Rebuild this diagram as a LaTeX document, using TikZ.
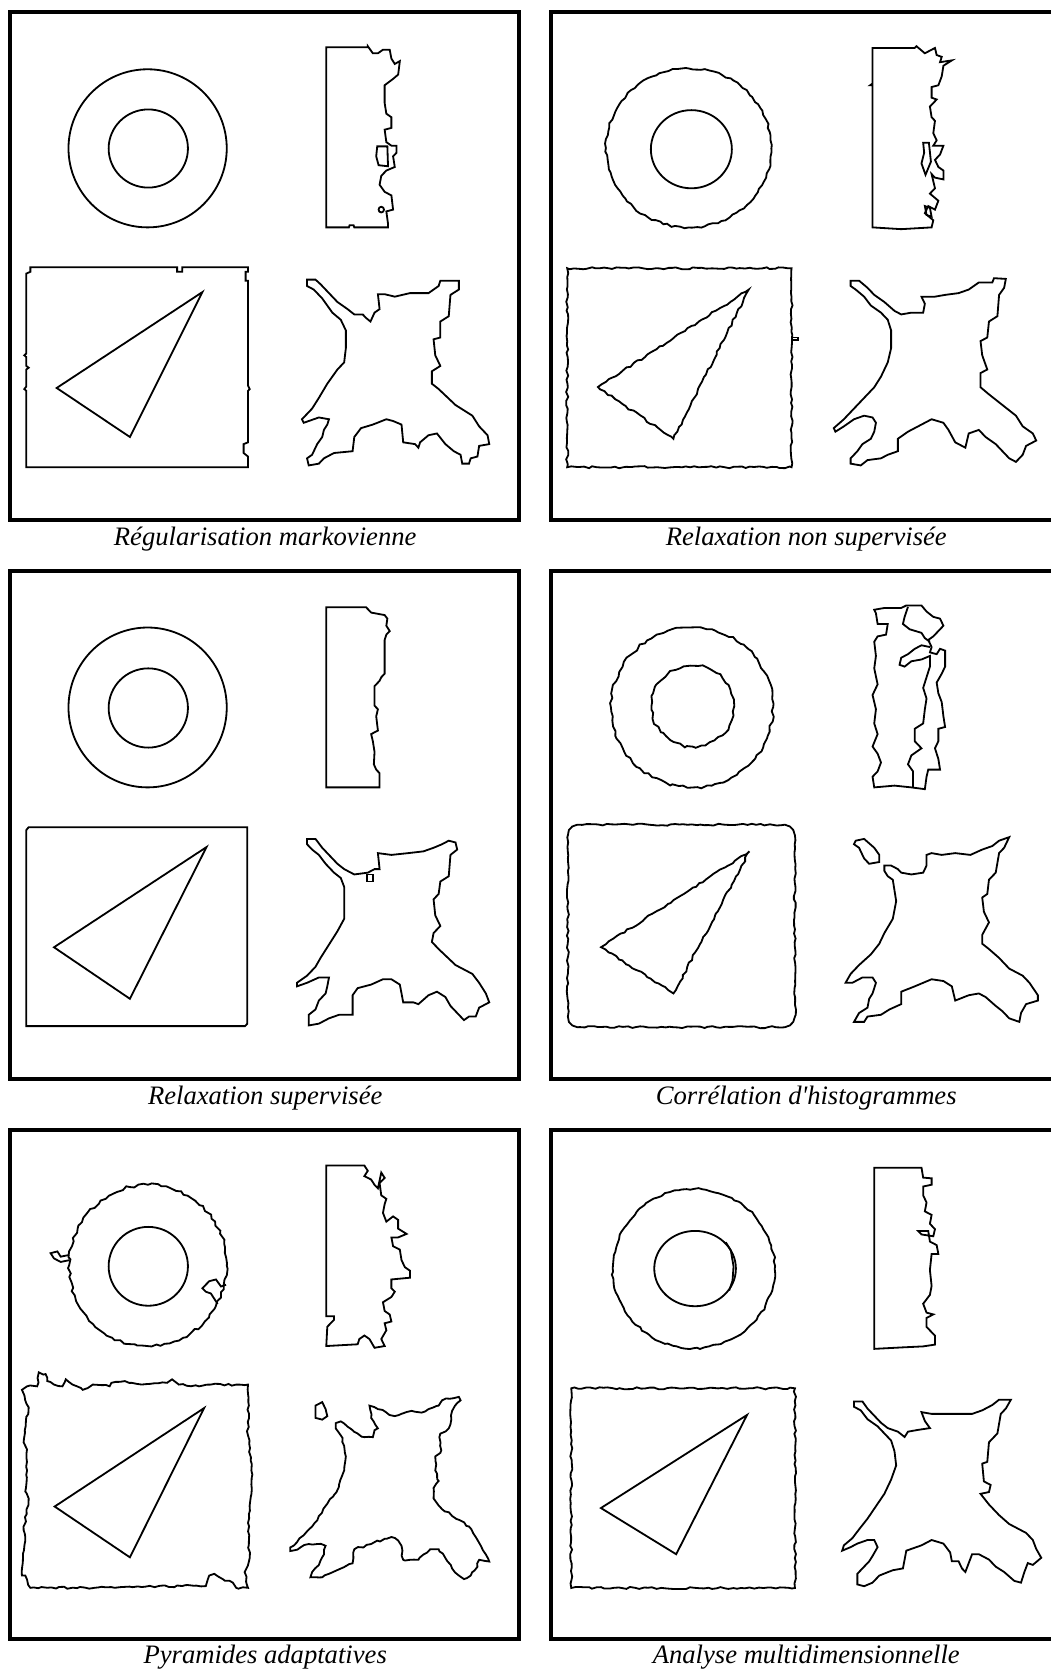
\documentclass[tikz,border=0pt]{standalone}
\usepackage{fontspec}
\setmainfont{Liberation Serif}
\usetikzlibrary{decorations.pathmorphing}
\begin{document}
\begin{tikzpicture}[x=0.5pt,y=-0.5pt,
  frm/.style={line width=1.9pt},
  shp/.style={line width=0.85pt, line join=miter},
  noisy/.style={decorate, decoration={random steps, segment length=2pt, amplitude=0.5pt}},
  rough/.style={decorate, decoration={random steps, segment length=2.2pt, amplitude=0.7pt}},
  captxt/.style={font=\itshape\fontsize{12.5}{14}\selectfont, anchor=base, inner sep=0pt}]
\pgfmathsetseed{7}
\useasboundingbox (0,0) rectangle (986,1568);
\fill[white] (0,0) rectangle (986,1568);

% frames
\draw[frm] (9.5,11) rectangle (487.5,488.5);
\draw[frm] (517,11) rectangle (997,488.5);
\draw[frm] (9.5,536) rectangle (487.5,1013.5);
\draw[frm] (517,536) rectangle (997,1013.5);
\draw[frm] (9.5,1061) rectangle (487.5,1538.5);
\draw[frm] (517,1061) rectangle (997,1538.5);

% captions
\node[captxt] (c1) at (249,512) {Régularisation markovienne};
\node[captxt] (c2) at (757,512) {Relaxation non supervisée};
\node[captxt] (c3) at (249,1037) {Relaxation supervisée};
\node[captxt] (c4) at (757,1037) {Corrélation d\textquotesingle histogrammes};
\node[captxt] (c5) at (249,1562) {Pyramides adaptatives};
\node[captxt] (c6) at (757,1562) {Analyse multidimensionnelle};

% ---------- Panel 1 ----------
\begin{scope}[shift={(0,0)},x=0.1584pt,y=-0.1668pt]
\draw[shp] (437.5,417.5) ellipse [x radius=234.5,y radius=222.5];
\draw[shp] (439.5,418) ellipse [x radius=117.5,y radius=110];
\draw[shp] (967,133)--(1090,133)--(1090,130)--(1105,150)--(1120,150)--(1135,140)--(1155,140)--(1160,165)--(1170,180)--(1185,172)--(1180,210)--(1165,222)--(1140,240)--(1140,290)--(1145,320)--(1160,330)--(1160,360)--(1140,365)--(1145,400)--(1160,410)--(1175,410)--(1175,430)--(1165,440)--(1170,470)--(1145,480)--(1130,495)--(1125,520)--(1140,540)--(1160,550)--(1165,590)--(1145,595)--(1150,630)--(1150,640)--(1050,640)--(1048,634)--(1036,634)--(1034,640)--(967,640)--cycle;
\draw[shp] (1118,412)--(1148,412)--(1150,468)--(1122,465)--(1115,440)--cycle;
\draw[shp] (1130,590) ellipse [x radius=8,y radius=8];
\draw[shp] (78,770)--(90,765)--(90,752)--(525,752)--(525,765)--(540,765)--(540,752)--(735,752)--(735,765)--(728,765)--(728,790)--(735,790)--(735,1085)--(740,1095)--(735,1100)--(735,1245)--(722,1250)--(722,1275)--(735,1285)--(735,1315)--(78,1315)--(78,1100)--(72,1095)--(78,1088)--(78,1040)--(85,1035)--(78,1030)--(78,1005)--(72,1000)--(78,995)--cycle;
\draw[shp] (600,822)--(168,1092)--(385,1230)--cycle;
\draw[shp] (910,787)--(935,787)--(950,800)--(970,820)--(1000,850)--(1030,870)--(1050,885)--(1075,885)--(1085,895)--(1098,905)--(1110,880)--(1125,870)--(1120,828)--(1140,828)--(1170,835)--(1215,825)--(1270,825)--(1300,805)--(1305,790)--(1360,790)--(1360,815)--(1335,830)--(1330,890)--(1305,905)--(1305,950)--(1285,955)--(1290,1000)--(1305,1030)--(1280,1045)--(1280,1080)--(1300,1095)--(1350,1140)--(1400,1170)--(1420,1200)--(1445,1225)--(1450,1250)--(1420,1255)--(1415,1285)--(1395,1290)--(1390,1305)--(1370,1305)--(1365,1280)--(1345,1270)--(1320,1250)--(1295,1220)--(1270,1225)--(1245,1245)--(1240,1260)--(1230,1250)--(1195,1245)--(1190,1195)--(1165,1185)--(1145,1180)--(1105,1195)--(1070,1205)--(1050,1230)--(1045,1270)--(990,1275)--(960,1290)--(945,1305)--(915,1310)--(910,1290)--(925,1280)--(940,1250)--(955,1230)--(960,1210)--(970,1195)--(975,1180)--(945,1175)--(900,1190)--(895,1180)--(905,1170)--(925,1150)--(945,1120)--(970,1080)--(1000,1040)--(1020,1020)--(1025,980)--(1025,930)--(1010,900)--(985,880)--(955,840)--(930,815)--(910,805)--cycle;
\end{scope}

% ---------- Panel 2 ----------
\begin{scope}[shift={(497.7,0)},x=0.1584pt,y=-0.1668pt]
\draw[shp,noisy] (470,416.5) ellipse [x radius=245,y radius=223.5];
\draw[shp] (478,420) ellipse [x radius=120,y radius=110];
\draw[shp] (1015,135)--(1140,135)--(1145,130)--(1170,150)--(1200,135)--(1205,155)--(1220,160)--(1215,175)--(1250,170)--(1225,185)--(1220,215)--(1210,240)--(1190,245)--(1190,275)--(1205,280)--(1185,300)--(1190,330)--(1200,340)--(1195,375)--(1205,395)--(1195,410)--(1225,410)--(1215,435)--(1200,450)--(1210,470)--(1225,480)--(1225,505)--(1200,500)--(1190,490)--(1200,530)--(1185,545)--(1210,565)--(1200,590)--(1180,580)--(1170,600)--(1195,620)--(1190,640)--(1100,645)--(1015,640)--(1015,240)--(1008,240)--(1015,235)--cycle;
\draw[shp] (1165,402)--(1182,402)--(1188,455)--(1172,492)--(1160,460)--(1168,430)--cycle;
\draw[shp] (1170,580)--(1185,585)--(1190,610)--(1175,605)--cycle;
\draw[shp,noisy] (110,755) rectangle (775,1315);
\draw[shp] (775,950)--(795,950)--(795,958)--(775,958);
\draw[shp,noisy] (648,815)--(200,1090)--(425,1235)--cycle;
\draw[shp] (950,790)--(975,790)--(1000,810)--(1020,830)--(1050,850)--(1080,875)--(1100,885)--(1130,880)--(1165,880)--(1170,855)--(1160,835)--(1200,835)--(1230,830)--(1270,825)--(1300,815)--(1330,795)--(1370,795)--(1375,783)--(1410,785)--(1405,810)--(1390,830)--(1385,890)--(1360,905)--(1355,950)--(1335,960)--(1340,1000)--(1355,1040)--(1335,1050)--(1335,1090)--(1360,1110)--(1400,1140)--(1440,1170)--(1460,1200)--(1490,1220)--(1500,1240)--(1470,1255)--(1460,1280)--(1440,1300)--(1420,1290)--(1400,1270)--(1380,1250)--(1350,1230)--(1330,1210)--(1300,1220)--(1290,1260)--(1260,1245)--(1240,1210)--(1225,1190)--(1190,1180)--(1160,1195)--(1120,1215)--(1090,1235)--(1090,1270)--(1060,1280)--(1040,1290)--(1000,1295)--(980,1310)--(950,1305)--(950,1290)--(970,1270)--(985,1250)--(1010,1235)--(1020,1215)--(1025,1190)--(1015,1175)--(990,1170)--(960,1180)--(930,1200)--(905,1215)--(900,1205)--(930,1180)--(960,1150)--(990,1120)--(1020,1090)--(1040,1060)--(1060,1020)--(1070,980)--(1070,930)--(1060,900)--(1040,880)--(1010,860)--(990,835)--(965,815)--(950,805)--cycle;
\end{scope}

% ---------- Panel 3 ----------
\begin{scope}[shift={(0,525.8)},x=0.1584pt,y=-0.1668pt]
\draw[shp] (437.5,415) ellipse [x radius=234.5,y radius=225];
\draw[shp] (439.5,416.5) ellipse [x radius=117.5,y radius=111.5];
\draw[shp] (967,133)--(1085,133)--(1100,148)--(1140,155)--(1148,165)--(1145,185)--(1155,200)--(1145,210)--(1140,225)--(1140,320)--(1130,330)--(1125,340)--(1110,355)--(1110,410)--(1120,420)--(1115,440)--(1120,480)--(1100,490)--(1105,510)--(1110,540)--(1108,575)--(1115,590)--(1125,600)--(1125,640)--(967,640)--cycle;
\draw[shp] (85,752)--(733,752)--(733,1305)--(726,1312)--(78,1312)--(78,760)--cycle;
\draw[shp] (612,808)--(160,1090)--(385,1235)--cycle;
\draw[shp] (910,785)--(935,785)--(955,810)--(975,830)--(1000,855)--(1020,870)--(1050,885)--(1090,880)--(1110,870)--(1125,870)--(1120,825)--(1160,830)--(1210,825)--(1255,820)--(1285,810)--(1310,800)--(1330,790)--(1350,795)--(1355,815)--(1335,830)--(1330,890)--(1305,905)--(1300,940)--(1285,955)--(1290,1000)--(1305,1030)--(1285,1050)--(1280,1075)--(1300,1095)--(1350,1140)--(1400,1165)--(1420,1190)--(1440,1220)--(1450,1245)--(1420,1260)--(1410,1285)--(1390,1285)--(1375,1295)--(1360,1280)--(1335,1255)--(1320,1230)--(1295,1215)--(1270,1225)--(1240,1250)--(1225,1245)--(1195,1245)--(1185,1195)--(1160,1180)--(1135,1180)--(1100,1195)--(1060,1205)--(1045,1225)--(1045,1280)--(1005,1280)--(975,1290)--(945,1305)--(915,1310)--(915,1280)--(935,1265)--(945,1240)--(965,1220)--(970,1200)--(975,1175)--(945,1175)--(910,1190)--(880,1200)--(880,1190)--(910,1170)--(935,1145)--(950,1120)--(970,1090)--(1000,1045)--(1020,1010)--(1020,960)--(1020,920)--(1010,895)--(990,880)--(965,855)--(945,830)--(925,815)--(910,800)--cycle;
\draw[shp] (1087,885) rectangle (1105,905);
\end{scope}

% ---------- Panel 4 ----------
\begin{scope}[shift={(497.7,525.8)},x=0.1584pt,y=-0.1668pt]
\draw[shp,rough] (480,415) ellipse [x radius=240,y radius=225];
\draw[shp,rough] (482.5,411.5) ellipse [x radius=122.5,y radius=113.5];
\draw[shp] (1020,140)--(1050,135)--(1100,135)--(1115,128)--(1160,128)--(1175,145)--(1195,160)--(1215,165)--(1225,185)--(1215,195)--(1195,215)--(1180,225)--(1190,245)--(1185,260)--(1205,265)--(1215,250)--(1230,255)--(1230,300)--(1220,320)--(1205,345)--(1210,375)--(1220,400)--(1225,440)--(1230,470)--(1210,475)--(1210,510)--(1200,530)--(1210,560)--(1215,590)--(1180,590)--(1175,610)--(1170,645)--(1130,640)--(1080,635)--(1020,640)--(1015,610)--(1030,595)--(1040,570)--(1030,545)--(1015,525)--(1030,490)--(1020,460)--(1025,420)--(1015,380)--(1030,350)--(1020,305)--(1025,270)--(1020,230)--(1030,215)--(1055,210)--(1060,180)--(1030,180)--(1025,150)--cycle;
\draw[shp] (1120,132)--(1110,160)--(1105,180)--(1125,195)--(1160,205)--(1170,220)--(1185,230);
\draw[shp] (1185,245)--(1160,240)--(1140,250)--(1120,265)--(1100,275)--(1095,295)--(1110,300)--(1130,285)--(1160,280)--(1185,270)--(1185,300)--(1175,330)--(1165,360)--(1175,390)--(1170,420)--(1165,460)--(1140,475)--(1140,510)--(1160,530)--(1130,550)--(1120,575)--(1135,595)--(1135,640);
\draw[shp,noisy] (140,745)--(755,745)--(770,750)--(780,760)--(785,775)--(785,1285)--(780,1300)--(770,1310)--(755,1315)--(140,1315)--(125,1310)--(115,1300)--(112,1285)--(112,775)--(115,760)--(125,750)--cycle;
\draw[shp,noisy] (650,820)--(210,1090)--(425,1220)--cycle;
\draw[shp] (965,790)--(990,785)--(1020,810)--(1035,830)--(1035,850)--(1005,855)--(990,840)--(975,810)--(960,800)--cycle;
\draw[shp] (1050,860)--(1070,860)--(1090,870)--(1100,880)--(1130,885)--(1165,880)--(1175,860)--(1175,830)--(1190,825)--(1220,830)--(1260,825)--(1305,830)--(1340,815)--(1370,805)--(1390,790)--(1420,780)--(1405,810)--(1390,825)--(1380,880)--(1360,900)--(1355,940)--(1340,950)--(1345,990)--(1360,1020)--(1340,1055)--(1340,1080)--(1360,1095)--(1390,1120)--(1420,1150)--(1460,1170)--(1480,1190)--(1505,1225)--(1505,1240)--(1470,1250)--(1455,1275)--(1450,1300)--(1420,1290)--(1400,1270)--(1380,1255)--(1350,1230)--(1330,1220)--(1300,1225)--(1260,1240)--(1250,1200)--(1225,1185)--(1190,1180)--(1165,1190)--(1140,1200)--(1100,1215)--(1100,1250)--(1065,1265)--(1040,1280)--(1000,1285)--(990,1300)--(960,1300)--(975,1275)--(1000,1260)--(1005,1235)--(1015,1220)--(1025,1190)--(1015,1175)--(985,1175)--(955,1190)--(935,1190)--(950,1165)--(975,1140)--(1010,1110)--(1035,1080)--(1050,1050)--(1075,1010)--(1085,960)--(1080,930)--(1075,900)--(1060,890)--(1050,875)--cycle;
\end{scope}

% ---------- Panel 5 ----------
\begin{scope}[shift={(0,1051.6)},x=0.1584pt,y=-0.1645pt]
\draw[shp,rough] (438.5,415) ellipse [x radius=233.5,y radius=230];
\draw[shp] (205,385)--(180,390)--(170,375)--(150,380)--(160,395)--(180,405)--(205,400);
\draw[shp] (670,470)--(655,475)--(640,455)--(620,460)--(610,470)--(600,480)--(610,490)--(625,495)--(635,510)--(645,525);
\draw[shp] (439.5,417.5) ellipse [x radius=117.5,y radius=112.5];
\draw[shp] (967,130)--(1080,130)--(1090,145)--(1080,160)--(1100,170)--(1110,185)--(1120,195)--(1130,150)--(1140,165)--(1125,180)--(1130,215)--(1145,225)--(1140,240)--(1135,265)--(1145,290)--(1165,275)--(1180,285)--(1180,310)--(1205,325)--(1180,335)--(1160,335)--(1165,360)--(1185,370)--(1190,400)--(1200,420)--(1215,430)--(1215,450)--(1160,455)--(1160,480)--(1170,490)--(1160,505)--(1135,520)--(1140,545)--(1155,555)--(1160,575)--(1140,580)--(1145,600)--(1130,625)--(1140,645)--(1110,650)--(1095,625)--(1080,615)--(1065,625)--(1060,640)--(967,645)--(970,590)--(990,570)--(990,560)--(967,560)--cycle;
\draw[shp,noisy] (80,760)--(110,760)--(115,720)--(135,725)--(140,745)--(160,755)--(185,760)--(195,740)--(215,755)--(245,770)--(260,765)--(275,755)--(325,760)--(330,750)--(370,745)--(390,750)--(420,755)--(495,750)--(510,740)--(530,755)--(590,760)--(625,755)--(700,755)--(735,755)--(735,900)--(745,1000)--(745,1040)--(735,1150)--(740,1250)--(725,1290)--(735,1335)--(700,1335)--(690,1320)--(660,1310)--(635,1295)--(620,1300)--(610,1330)--(540,1330)--(470,1330)--(340,1335)--(90,1335)--(75,1300)--(65,1300)--(75,1190)--(70,1170)--(85,1080)--(75,1060)--(80,940)--(70,920)--(85,820)--(65,770)--cycle;
\draw[shp] (605,822)--(162,1103)--(385,1248)--cycle;
\draw[shp] (935,815)--(955,805)--(965,825)--(970,845)--(955,855)--(935,850)--(935,830)--cycle;
\draw[shp,noisy] (995,865)--(1010,860)--(1030,875)--(1050,890)--(1080,905)--(1105,905)--(1110,885)--(1120,880)--(1100,850)--(1095,815)--(1120,825)--(1170,845)--(1220,830)--(1250,835)--(1270,825)--(1300,815)--(1310,800)--(1360,790)--(1365,800)--(1340,830)--(1330,880)--(1305,895)--(1305,950)--(1290,960)--(1290,1000)--(1300,1030)--(1285,1050)--(1285,1080)--(1300,1100)--(1340,1130)--(1390,1160)--(1410,1190)--(1425,1215)--(1440,1240)--(1450,1260)--(1420,1255)--(1415,1275)--(1395,1300)--(1375,1310)--(1360,1300)--(1340,1280)--(1320,1250)--(1300,1225)--(1275,1225)--(1255,1240)--(1240,1255)--(1195,1255)--(1190,1215)--(1180,1200)--(1160,1190)--(1140,1195)--(1100,1210)--(1050,1225)--(1045,1265)--(1010,1280)--(975,1295)--(955,1305)--(920,1305)--(925,1290)--(945,1270)--(960,1240)--(965,1215)--(940,1210)--(915,1210)--(890,1220)--(860,1230)--(860,1220)--(880,1205)--(900,1185)--(925,1160)--(945,1130)--(970,1095)--(990,1070)--(1005,1040)--(1020,1000)--(1025,960)--(1020,930)--(1010,900)--(995,880)--cycle;
\end{scope}

% ---------- Panel 6 ----------
\begin{scope}[shift={(497.7,1042.3)},x=0.1584pt,y=-0.1668pt]
\draw[shp,noisy] (485,446) ellipse [x radius=240,y radius=224];
\draw[shp] (489,446) ellipse [x radius=121,y radius=106];
\draw[shp] (580,372)--(595,395)--(603,440)--(600,480)--(590,508);
\draw[shp] (1020,162)--(1160,162)--(1165,190)--(1190,192)--(1190,210)--(1165,215)--(1165,240)--(1175,260)--(1170,285)--(1190,295)--(1185,320)--(1200,335)--(1195,355)--(1160,350)--(1150,340)--(1180,340)--(1185,370)--(1205,380)--(1210,405)--(1190,405)--(1185,450)--(1190,495)--(1185,520)--(1165,545)--(1175,570)--(1195,575)--(1175,585)--(1175,610)--(1190,625)--(1200,635)--(1200,660)--(1165,665)--(1100,668)--(1020,672)--cycle;
\draw[shp,noisy] (122,783) rectangle (785,1345);
\draw[shp] (643,858)--(210,1120)--(433,1250)--cycle;
\draw[shp] (960,820)--(985,820)--(1000,840)--(1020,860)--(1040,880)--(1060,895)--(1090,905)--(1110,920)--(1120,905)--(1150,900)--(1185,895)--(1170,875)--(1160,850)--(1190,855)--(1230,855)--(1270,855)--(1310,855)--(1340,845)--(1370,830)--(1390,815)--(1425,815)--(1410,840)--(1395,855)--(1385,910)--(1360,935)--(1355,990)--(1340,995)--(1345,1045)--(1365,1055)--(1360,1075)--(1335,1080)--(1360,1110)--(1390,1140)--(1420,1165)--(1470,1190)--(1490,1210)--(1500,1235)--(1515,1260)--(1490,1280)--(1475,1275)--(1465,1300)--(1455,1330)--(1435,1325)--(1405,1300)--(1380,1285)--(1360,1265)--(1330,1250)--(1310,1250)--(1300,1275)--(1290,1300)--(1280,1290)--(1270,1270)--(1250,1270)--(1245,1245)--(1225,1220)--(1190,1210)--(1160,1225)--(1115,1240)--(1105,1290)--(1075,1295)--(1035,1310)--(1015,1330)--(990,1340)--(970,1335)--(970,1305)--(985,1290)--(1005,1270)--(1015,1255)--(1030,1230)--(1020,1210)--(1000,1210)--(970,1220)--(950,1230)--(925,1240)--(930,1225)--(955,1205)--(975,1180)--(1000,1150)--(1025,1115)--(1050,1080)--(1070,1040)--(1085,1000)--(1080,960)--(1070,930)--(1050,910)--(1030,890)--(1000,870)--(980,845)--(960,835)--cycle;
\end{scope}
\end{tikzpicture}
\end{document}
